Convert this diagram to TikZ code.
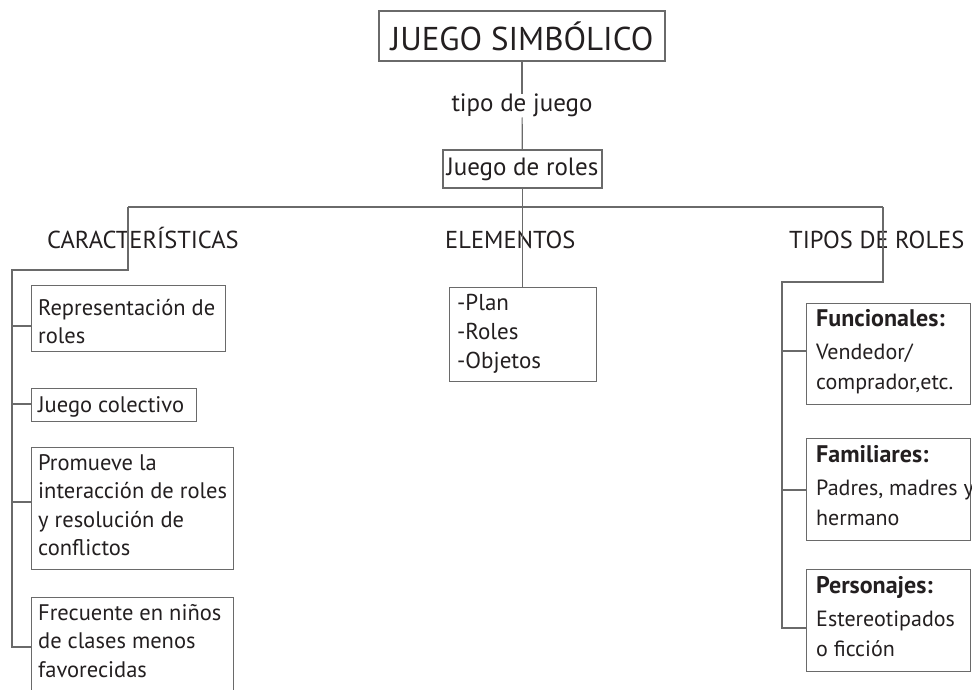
\documentclass[tikz,border=0pt]{standalone}
\usepackage{fontspec}
\setmainfont{PT Sans}
\usetikzlibrary{calc}
\definecolor{linegray}{HTML}{6A6A6A}
\definecolor{txt}{HTML}{231F20}
\newcommand\hdr[1]{{\fontsize{24}{30}\selectfont\bfseries #1}}
\tikzset{
  conn/.style={draw=linegray, line width=1.2pt},
  boxshape/.style={draw=linegray, line width=1.2pt, rectangle, inner sep=0pt, anchor=north west},
  boxtext/.style={anchor=north west, inner sep=0pt, align=left, text=txt, font=\fontsize{22.5}{28.5}\selectfont},
  rtext/.style={anchor=north west, inner sep=0pt, align=left, text=txt, font=\fontsize{22}{30}\selectfont},
  head/.style={inner sep=0pt, anchor=base west, text=txt, font=\fontsize{24.5}{28}\selectfont},
}
\begin{document}
\begin{tikzpicture}[x=1pt,y=-1pt]
\useasboundingbox (0,0) rectangle (972,690);
\clip (0,0) rectangle (972,690);
\fill[white] (0,0) rectangle (972,690);
% title
\node[draw=linegray, line width=1.2pt, minimum width=286pt, minimum height=50pt, inner sep=0pt, text=txt, font=\fontsize{33}{38}\selectfont] (title) at (522,36) {JUEGO SIMBÓLICO};
\node[inner sep=0pt, anchor=base, text=txt, font=\fontsize{25}{30}\selectfont] (tipo) at (522,112) {tipo de juego};
\node[draw=linegray, line width=1.2pt, minimum width=159pt, minimum height=38pt, inner sep=0pt, text=txt, font=\fontsize{25}{30}\selectfont] (roles) at (522.5,169) {Juego de roles};
\draw[conn] (title) -- (tipo);
\draw[conn] (tipo) -- (roles);
% junction
\coordinate (j) at (522.5,207);
\coordinate (cL) at (128,207);
\coordinate (cR) at (883,207);
\draw[conn] (roles.south) -- (j);
\draw[conn] (cL) -- (cR);
% headings
\node[head] (carac) at (47,248) {CARACTERÍSTICAS};
\node[head] (elem) at (445,248) {ELEMENTOS};
\node[head] (tiposr) at (789,248) {TIPOS DE ROLES};
% left boxes
\node[boxshape, minimum width=194pt, minimum height=66pt] (b1) at (31,285) {};
\node[boxtext] (t1) at (38,295) {\strut Representación de\\roles};
\node[boxshape, minimum width=165pt, minimum height=33pt] (b2) at (31,388) {};
\node[boxtext] (t2) at (38,392) {\strut Juego colectivo};
\node[boxshape, minimum width=202pt, minimum height=122pt] (b3) at (31,447) {};
\node[boxtext] (t3) at (38,450) {\strut Promueve la\\interacción de roles\\y resolución de\\conflictos};
\node[boxshape, minimum width=202pt, minimum height=120pt] (b4) at (31,597) {};
\node[boxtext] (t4) at (38,600) {\strut Frecuente en niños\\de clases menos\\favorecidas};
% left spine
\coordinate (cLb) at (128,270);
\coordinate (sTop) at (12,270);
\coordinate (s1) at (12,326);
\coordinate (s2) at (12,404);
\coordinate (s3) at (12,502);
\coordinate (s4) at (12,647);
\draw[conn] (cL) -- (cLb) -- (sTop) -- (s4) -- (s4 -| b4.west);
\draw[conn] (s1) -- (s1 -| b1.west);
\draw[conn] (s2) -- (s2 -| b2.west);
\draw[conn] (s3) -- (s3 -| b3.west);
% elementos
\node[boxshape, minimum width=147pt, minimum height=94pt] (be) at (449,287) {};
\node[boxtext, font=\fontsize{23}{29}\selectfont] (te) at (457,289.7) {\strut -Plan\\-Roles\\-Objetos};
\draw[conn] (j) -- (j |- be.north);
% right boxes
\node[boxshape, minimum width=164pt, minimum height=101pt] (r1) at (806,303) {};
\node[rtext] (rt1) at (816,305) {\strut\hdr{Funcionales:}\\[3.5pt]Vendedor/\\comprador,etc.};
\node[boxshape, minimum width=164pt, minimum height=102pt] (r2) at (806,438) {};
\node[rtext] (rt2) at (816,441) {\strut\hdr{Familiares:}\\[3.5pt]Padres, madres y\\hermano};
\node[boxshape, minimum width=164pt, minimum height=102pt] (r3) at (806,569) {};
\node[rtext] (rt3) at (816,572) {\strut\hdr{Personajes:}\\[3.5pt]Estereotipados\\o ficción};
% right spine
\coordinate (cRb) at (883,282);
\coordinate (rTop) at (782,282);
\coordinate (q1) at (782,351);
\coordinate (q2) at (782,490);
\coordinate (q3) at (782,628);
\draw[conn] (cR) -- (cRb) -- (rTop) -- (q3) -- (q3 -| r3.west);
\draw[conn] (q1) -- (q1 -| r1.west);
\draw[conn] (q2) -- (q2 -| r2.west);
\end{tikzpicture}
\end{document}
